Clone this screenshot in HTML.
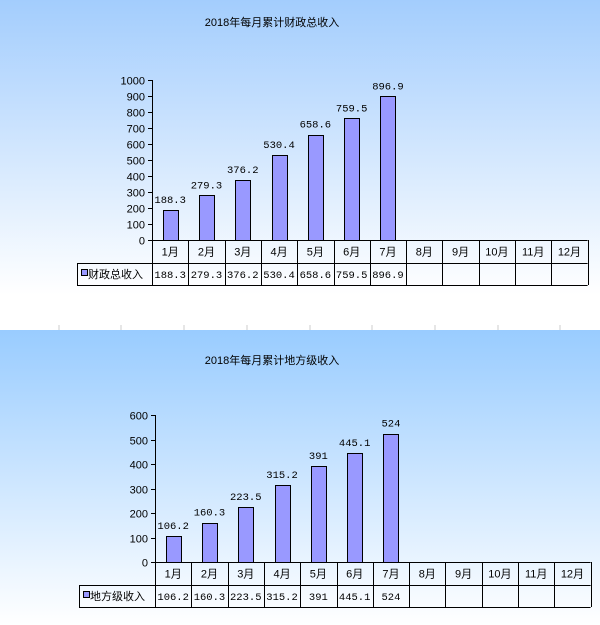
<!DOCTYPE html>
<html><head><meta charset="utf-8"><style>
html,body{margin:0;padding:0;background:#fff;}
svg{display:block;}
text{font-family:"Liberation Sans","Noto Sans CJK SC",sans-serif;font-size:11px;fill:#000;}
.m{font-family:"Liberation Mono","Noto Sans CJK SC",monospace;font-size:10.5px;}
</style></head><body>
<svg width="600" height="625" viewBox="0 0 600 625" xmlns="http://www.w3.org/2000/svg">
<defs>
<linearGradient id="g1" x1="0" y1="0" x2="0" y2="1"><stop offset="0" stop-color="#a3cdfd"/><stop offset="1" stop-color="#ffffff"/></linearGradient>
<linearGradient id="g2" x1="0" y1="0" x2="0" y2="1"><stop offset="0" stop-color="#99ccff"/><stop offset="1" stop-color="#ffffff"/></linearGradient>
</defs>
<rect x="0" y="0" width="600" height="295" fill="url(#g1)"/>
<rect x="0" y="330" width="600" height="295" fill="url(#g2)"/>
<g stroke="#ccc">
<line x1="59" y1="325" x2="59" y2="330"/><line x1="121" y1="325" x2="121" y2="330"/><line x1="184" y1="325" x2="184" y2="330"/><line x1="247" y1="325" x2="247" y2="330"/><line x1="310" y1="325" x2="310" y2="330"/><line x1="372" y1="325" x2="372" y2="330"/><line x1="435" y1="325" x2="435" y2="330"/><line x1="498" y1="325" x2="498" y2="330"/><line x1="560" y1="325" x2="560" y2="330"/>
</g>
<text x="272" y="26" text-anchor="middle" font-size="12">2018年每月累计财政总收入</text>
<text x="272" y="364" text-anchor="middle" font-size="12">2018年每月累计地方级收入</text>
<g id="c1"></g><g id="c2"></g>
</svg>
<script>
function chart(g,ax,y0,ytop,max,step,lx,r1,r2,name,vals){
 var ns="http://www.w3.org/2000/svg",s="";
 var cw=36.3,n=12,h=y0-ytop;
 s+='<line x1="'+ax+'.5" y1="'+ytop+'" x2="'+ax+'.5" y2="'+y0+'" stroke="#000"/>';
 for(var v=0;v<=max;v+=step){var y=Math.round(y0-v/max*h)+.5;
  s+='<line x1="'+(ax-4)+'" y1="'+y+'" x2="'+ax+'" y2="'+y+'" stroke="#000"/>';
  s+='<text x="'+(ax-7)+'" y="'+(y+4)+'" text-anchor="end">'+v+'</text>';}
 var right=ax+cw*n;
 // table
 s+='<g stroke="#000" fill="none">';
 s+='<line x1="'+ax+'" y1="'+(y0+.5)+'" x2="'+right+'" y2="'+(y0+.5)+'"/>';
 s+='<line x1="'+lx+'" y1="'+(r1+.5)+'" x2="'+right+'" y2="'+(r1+.5)+'"/>';
 s+='<line x1="'+lx+'" y1="'+(r2+.5)+'" x2="'+right+'" y2="'+(r2+.5)+'"/>';
 s+='<line x1="'+(lx+.5)+'" y1="'+r1+'" x2="'+(lx+.5)+'" y2="'+r2+'"/>';
 for(var i=0;i<=n;i++){var x=Math.round(ax+i*cw)+.5;s+='<line x1="'+x+'" y1="'+y0+'" x2="'+x+'" y2="'+r2+'"/>';}
 s+='</g>';
 s+='<rect x="'+(lx+4.5)+'" y="'+((r1+r2)/2-4.5)+'" width="6" height="6" fill="#9999ff" stroke="#000"/>';
 s+='<text x="'+(lx+11)+'" y="'+((r1+r2)/2+4)+'">'+name+'</text>';
 for(var i=0;i<n;i++){var cx=ax+i*cw+cw/2;
  s+='<text x="'+cx+'" y="'+((y0+r1)/2+4)+'" text-anchor="middle">'+(i+1)+'月</text>';
  if(i<vals.length){var v=vals[i],bh=v/max*h,by=y0-bh;
   s+='<rect x="'+(Math.round(cx-7.5)+.5)+'" y="'+(Math.round(by)+.5)+'" width="15" height="'+Math.round(bh)+'" fill="#9999ff" stroke="#000"/>';
   s+='<text class="m" x="'+cx+'" y="'+(by-7)+'" text-anchor="middle">'+v+'</text>';
   s+='<text class="m" x="'+cx+'" y="'+((r1+r2)/2+4)+'" text-anchor="middle">'+v+'</text>';}}
 document.getElementById(g).innerHTML=s;
}
chart("c1",152,240,80,1000,100,77,263,285,"财政总收入",[188.3,279.3,376.2,530.4,658.6,759.5,896.9]);
chart("c2",155,562,415,600,100,79,585,607,"地方级收入",[106.2,160.3,223.5,315.2,391,445.1,524]);
</script>
</body></html>
